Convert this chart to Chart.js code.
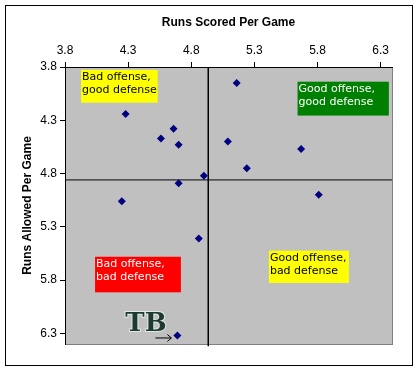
<!DOCTYPE html>
<html>
<head>
<meta charset="utf-8">
<script src="https://cdn.jsdelivr.net/npm/chart.js@4/dist/chart.umd.min.js"></script>
<style>
body { margin: 0; background: #fff; }
canvas { display: block; }
</style>
</head>
<body>
<canvas id="myChart" width="418" height="371"></canvas>
<script>
// runs scored / allowed per game, one entry per team (last one = Tampa Bay)
var runsScored = [5.16, 4.28, 4.66, 4.56, 4.70, 5.09, 5.67, 5.24, 4.90, 4.70, 5.81, 4.25, 4.86, 4.69];
var runsAllowed = [3.95, 4.24, 4.38, 4.47, 4.53, 4.50, 4.57, 4.75, 4.82, 4.89, 5.00, 5.06, 5.41, 6.32];
var avgScored = 4.935;
var avgAllowed = 4.86;
var xTicks = [3.8, 4.3, 4.8, 5.3, 5.8, 6.3];
var yTicks = [3.8, 4.3, 4.8, 5.3, 5.8, 6.3];
var quadrantText = [
    ["Bad offense,", "good defense"],
    ["Good offense,", "good defense"],
    ["Bad offense,", "bad defense"],
    ["Good offense,", "bad defense"]
];
var quadrantColor = ["#ffff00", "#008000", "#ff0000", "#ffff00"];
var quadrantTextColor = ["#000000", "#ffffff", "#ffffff", "#000000"];

var points = runsScored.map(function (x, i) { return { x: x, y: runsAllowed[i] }; });

// boxes in data units: x0, x1, y0, y1
var boxes = [
    [3.927, 4.534, 3.828, 4.135],
    [5.642, 6.365, 3.938, 4.256],
    [4.038, 4.718, 5.581, 5.915],
    [5.415, 6.049, 5.524, 5.827]
];

var framePlugin = {
    id: 'frame',
    beforeDraw: function (chart) {
        var ctx = chart.ctx, a = chart.chartArea;
        ctx.save();
        ctx.fillStyle = '#ffffff';
        ctx.fillRect(0, 0, chart.width, chart.height);
        ctx.strokeStyle = '#000000';
        ctx.lineWidth = 1;
        ctx.strokeRect(5.5, 5.5, 407, 360);
        ctx.fillStyle = '#c0c0c0';
        ctx.fillRect(a.left, a.top, a.right - a.left, a.bottom - a.top);
        ctx.strokeStyle = '#808080';
        ctx.strokeRect(a.left + 0.5, a.top + 0.5, a.right - a.left, a.bottom - a.top);
        ctx.restore();
    },
    afterDatasetsDraw: function (chart) {
        var ctx = chart.ctx;
        var xs = chart.scales.x, ys = chart.scales.y;
        ctx.save();
        ctx.font = '11px "DejaVu Sans"';
        ctx.textBaseline = 'top';
        boxes.forEach(function (b, i) {
            var l = xs.getPixelForValue(b[0]), r = xs.getPixelForValue(b[1]);
            var t = ys.getPixelForValue(b[2]), btm = ys.getPixelForValue(b[3]);
            ctx.fillStyle = quadrantColor[i];
            ctx.fillRect(l, t, r - l, btm - t);
            ctx.fillStyle = quadrantTextColor[i];
            quadrantText[i].forEach(function (line, j) {
                ctx.fillText(line, l + 1, t + 2 + j * 13);
            });
        });
        // Rays logo + arrow next to Tampa Bay
        var last = points[points.length - 1];
        var px = xs.getPixelForValue(last.x), py = ys.getPixelForValue(last.y);
        ctx.font = 'bold 26px "DejaVu Serif"';
        ctx.textBaseline = 'alphabetic';
        ctx.lineWidth = 2;
        ctx.strokeStyle = '#e0e8e8';
        ctx.strokeText('TB', px - 52, py - 4);
        ctx.fillStyle = '#1e3a2e';
        ctx.fillText('TB', px - 52, py - 4);
        ctx.strokeStyle = '#000000';
        ctx.lineWidth = 1;
        ctx.beginPath();
        ctx.moveTo(px - 22, py + 2.5);
        ctx.lineTo(px - 6, py + 2.5);
        ctx.moveTo(px - 10, py - 1);
        ctx.lineTo(px - 6, py + 2.5);
        ctx.lineTo(px - 10, py + 6);
        ctx.stroke();
        ctx.restore();
    }
};

var ctx = document.getElementById('myChart').getContext('2d');
var chart = new Chart(ctx, {
    type: 'scatter',
    data: {
        datasets: [{
            data: points,
            pointStyle: 'rectRot',
            pointRadius: 4,
            backgroundColor: '#000080',
            borderColor: '#000080',
            borderWidth: 0,
            order: 0
        }, {
            type: 'line',
            data: [{ x: avgScored, y: 3.8 }, { x: avgScored, y: 6.42 }],
            borderColor: '#000000',
            borderWidth: 1,
            pointRadius: 0,
            clip: false,
            order: 1
        }, {
            type: 'line',
            data: [{ x: 3.8, y: avgAllowed }, { x: 6.39, y: avgAllowed }],
            borderColor: '#000000',
            borderWidth: 1,
            pointRadius: 0,
            order: 1
        }]
    },
    options: {
        responsive: false,
        animation: false,
        layout: { padding: { left: 5, top: 10, right: 26, bottom: 27 } },
        plugins: { legend: { display: false }, tooltip: { enabled: false } },
        scales: {
            x: {
                type: 'linear',
                position: 'top',
                min: 3.8,
                max: 6.39,
                afterBuildTicks: function (s) { s.ticks = xTicks.map(function (v) { return { value: v }; }); },
                afterFit: function (s) { s.height = 57; },
                ticks: {
                    color: '#000000',
                    padding: 4,
                    maxRotation: 0,
                    font: { family: 'Liberation Sans', size: 12 },
                    callback: function (v) { return v.toFixed(1); }
                },
                grid: { drawOnChartArea: false, color: '#000000', tickLength: 5 },
                border: { color: '#000000' },
                title: {
                    display: true,
                    text: 'Runs Scored Per Game',
                    color: '#000000',
                    font: { family: 'Liberation Sans', size: 12, weight: 'bold' },
                    padding: { top: 5, bottom: 0 }
                }
            },
            y: {
                type: 'linear',
                reverse: true,
                min: 3.8,
                max: 6.4,
                afterBuildTicks: function (s) { s.ticks = yTicks.map(function (v) { return { value: v }; }); },
                afterFit: function (s) { s.width = 60; },
                ticks: {
                    color: '#000000',
                    padding: 3,
                    font: { family: 'Liberation Sans', size: 12 },
                    callback: function (v) { return v.toFixed(1); }
                },
                grid: { drawOnChartArea: false, color: '#000000', tickLength: 5 },
                border: { color: '#000000' },
                title: {
                    display: true,
                    text: 'Runs Allowed Per Game',
                    color: '#000000',
                    font: { family: 'Liberation Sans', size: 12, weight: 'bold' },
                    padding: { top: 15, bottom: 0 }
                }
            }
        }
    },
    plugins: [framePlugin]
});
</script>
</body>
</html>
